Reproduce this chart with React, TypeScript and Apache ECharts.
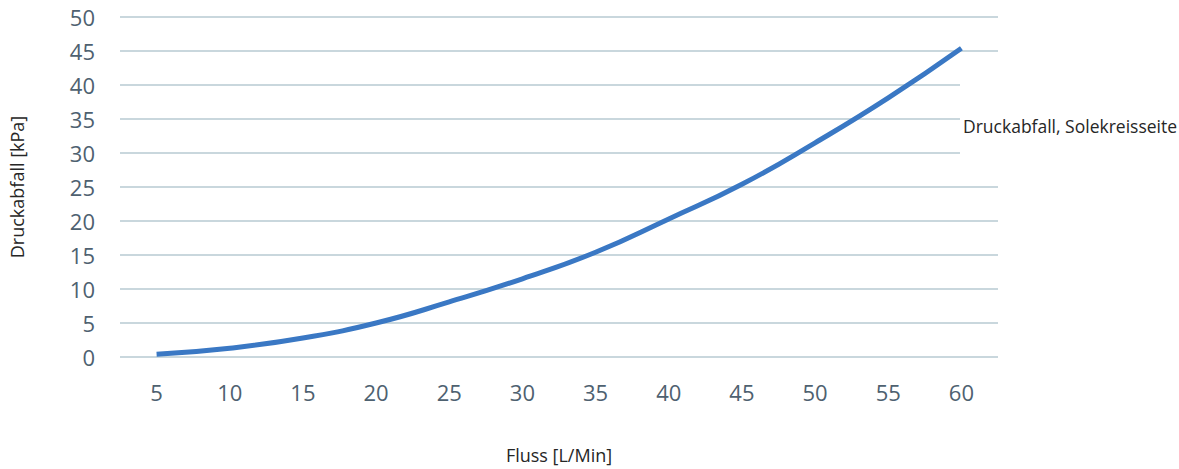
import React, { useEffect, useRef } from "react";
import * as echarts from "echarts";

const categories = ["5", "10", "15", "20", "25", "30", "35", "40", "45", "50", "55", "60"];
const pressureDrop = [0.4, 1.3, 2.8, 5.0, 8.1, 11.5, 15.4, 20.3, 25.4, 31.5, 38.1, 45.4];
const seriesName = "Druckabfall, Solekreisseite";
const xName = "Fluss [L/Min]";
const yName = "Druckabfall [kPa]";

export default function App() {
  const ref = useRef<HTMLDivElement>(null);
  useEffect(() => {
    const chart = echarts.init(ref.current!, null, { renderer: "svg" });
    chart.setOption({
      animation: false,
      backgroundColor: "#ffffff",
      textStyle: { fontFamily: "Open Sans" },
      grid: { left: 115, right: 181, top: 17, bottom: 112 },
      graphic: [
        {
          type: "rect",
          z: 3,
          left: 960,
          top: 66,
          shape: { width: 219, height: 96 },
          style: { fill: "#ffffff" },
        },
      ],
      legend: {
        data: [{ name: seriesName, icon: "none" }],
        left: 956,
        top: 117,
        itemWidth: 0,
        itemGap: 0,
        padding: [0, 0, 0, 2],
        textStyle: { fontFamily: "Open Sans", fontSize: 17.5, color: "#262626" },
      },
      xAxis: {
        type: "category",
        data: categories,
        boundaryGap: true,
        axisLine: { show: false },
        axisTick: { show: false },
        axisLabel: { fontFamily: "Open Sans", fontSize: 22, color: "#4e6170", margin: 24 },
        name: xName,
        nameLocation: "middle",
        nameGap: 89,
        nameTextStyle: { fontFamily: "Open Sans", fontSize: 18, color: "#262626" },
      },
      yAxis: {
        type: "value",
        min: 0,
        max: 50,
        interval: 5,
        axisLine: { show: false },
        axisTick: { show: false },
        splitLine: { lineStyle: { color: "#c9d7dd", width: 2 } },
        axisLabel: { fontFamily: "Open Sans", fontSize: 22, color: "#4e6170", margin: 25 },
        name: yName,
        nameLocation: "middle",
        nameGap: 94,
        nameTextStyle: { fontFamily: "Open Sans", fontSize: 18, color: "#262626" },
      },
      series: [
        {
          name: seriesName,
          type: "line",
          data: pressureDrop,
          smooth: true,
          showSymbol: false,
          lineStyle: { color: "#3a78c4", width: 5 },
          itemStyle: { color: "#3a78c4" },
        },
      ],
    });
    return () => chart.dispose();
  }, []);
  return <div ref={ref} style={{ width: 1179, height: 469, position: "absolute", left: 0, top: 0 }} />;
}
